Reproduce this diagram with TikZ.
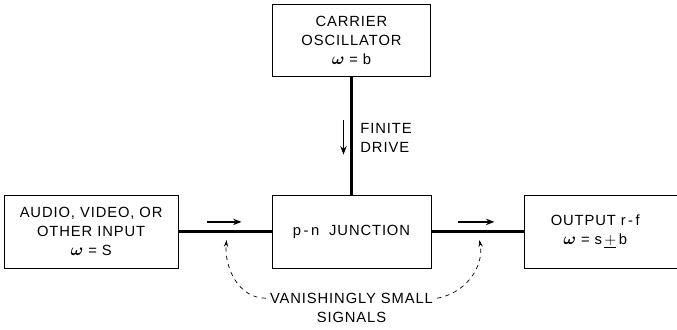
\documentclass[tikz,border=0pt]{standalone}
\usepackage{amsmath}
\usepackage{fontspec}
\setmainfont{Liberation Sans}[LetterSpace=6]
\usetikzlibrary{arrows.meta,positioning,calc}

\newcommand{\om}{$\boldsymbol{\omega}$}

\begin{document}
\begin{tikzpicture}[
    every node/.style={font=\fontsize{10.5}{13.5}\selectfont},
    block/.style={rectangle, draw=black, line width=0.6pt, align=center, minimum height=1.825cm},
    wire/.style={line width=1.5pt},
    flow/.style={-{Stealth[length=6pt,width=4.5pt]}, line width=1.4pt},
    hint/.style={-{Stealth[length=5pt,width=3pt]}, dashed, line width=0.5pt}
]

% frame of the page
\useasboundingbox (-8.7875,-2.4375) rectangle (8.1375,5.7875);

% Center: the junction
\node[block, minimum width=3.975cm] (junction) {p\,-\,n\ \ JUNCTION};

% Carrier oscillator (top)
\node[block, minimum width=3.95cm, minimum height=1.8cm, above=2.95cm of junction] (carrier) {
    CARRIER \\
    OSCILLATOR \\
    {\large\om}\,\,=\,\,b
};

% Signal input (left)
\node[block, minimum width=4.35cm, left=2.325cm of junction] (input) {
    AUDIO, VIDEO, OR \\
    OTHER INPUT \\
    {\large\om}\,\,=\,\,S
};

% Output (right)
\node[block, minimum width=3.82cm, right=2.325cm of junction] (output) {
    OUTPUT r\,-\,f\hspace{0.3cm} \\
    {\large\om}\,\,=\,\,s\,$\underline{+}$\,b\hspace{0.3cm}
};

% Note under the junction
\node[below=0.62cm of junction, inner sep=0pt, align=center] (signals) {
    VANISHINGLY SMALL \\
    SIGNALS
};

% Main connections
\draw[wire] (carrier) -- (junction);
\draw[wire] (input) -- (junction);
\draw[wire] (junction) -- (output);

% Direction marks
\coordinate (drivetop) at ($(carrier.south)+(-0.2,-1.075)$);
\coordinate (drivebot) at ($(carrier.south)+(-0.2,-1.95)$);
\draw[flow] (drivetop) -- (drivebot);
\node[anchor=west, align=left] (drive) at ($(carrier.south)+(0.1,-1.525)$) {
    FINITE \\
    DRIVE
};

\coordinate (intail) at ($(input.east)+(0.7,0.24)$);
\coordinate (inhead) at ($(input.east)+(1.575,0.24)$);
\draw[flow] (intail) -- (inhead);
\coordinate (outtail) at ($(junction.east)+(0.675,0.24)$);
\coordinate (outhead) at ($(junction.east)+(1.575,0.24)$);
\draw[flow] (outtail) -- (outhead);

% Pointers from the note
\coordinate (inpoint) at ($(input.east)+(1.2,-0.21)$);
\coordinate (outpoint) at ($(junction.east)+(1.2,-0.21)$);
\draw[hint] ([yshift=0.25cm,xshift=-0.1cm]signals.west) to[out=180, in=-95] (inpoint);
\draw[hint] ([yshift=0.25cm,xshift=0.1cm]signals.east) to[out=10, in=-80] (outpoint);

\end{tikzpicture}
\end{document}
